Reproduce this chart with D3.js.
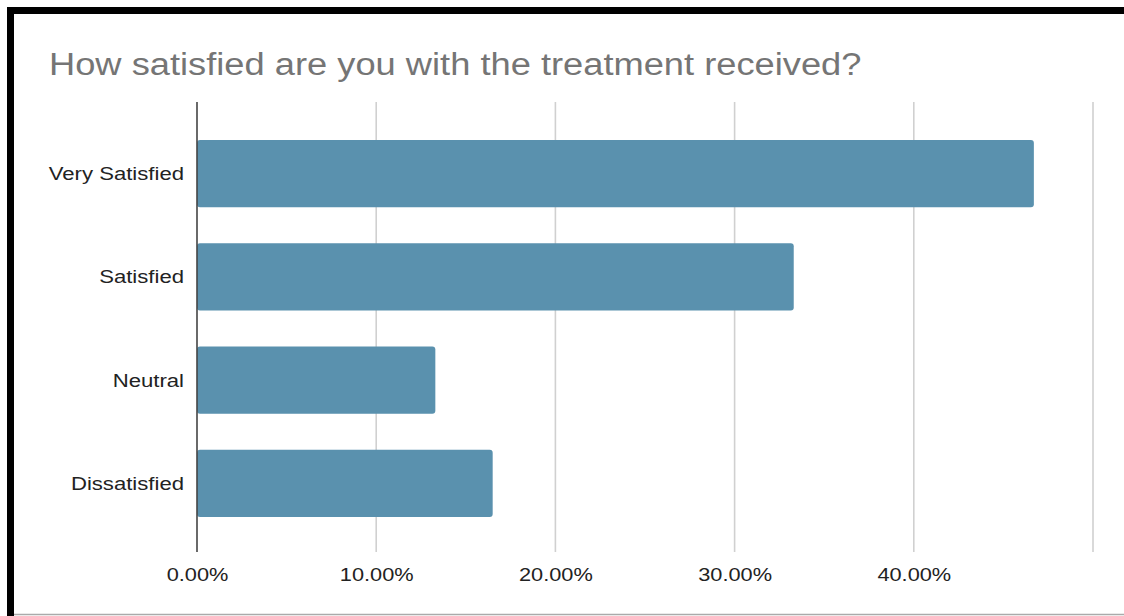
<!DOCTYPE html>
<html>
<head>
<meta charset="utf-8">
<script src="https://cdn.jsdelivr.net/npm/d3@7"></script>
<style>
  html, body { margin: 0; padding: 0; background: #fff; }
  svg { display: block; font-family: "Liberation Sans", Arial, Helvetica, sans-serif; }
</style>
</head>
<body>
<svg id="chart" width="1124" height="616"></svg>
<script>
// Survey responses: share of respondents per satisfaction level (percent)
const categories = ["Very Satisfied", "Satisfied", "Neutral", "Dissatisfied"];
const shares = [46.7, 33.3, 13.3, 16.5];
const xTicks = [0, 10, 20, 30, 40, 50];
const xTickLabels = ["0.00%", "10.00%", "20.00%", "30.00%", "40.00%", ""];
const title = "How satisfied are you with the treatment received?";

const svg = d3.select("#chart");
const W = 1124, H = 616;

// Frame: heavy black top/left edges, thin grey bottom edge
svg.append("path")
  .attr("d", `M10.5,${H} V10.5 H${W}`)
  .attr("fill", "none").attr("stroke", "#000").attr("stroke-width", 7);
svg.append("line")
  .attr("x1", 14).attr("x2", W).attr("y1", 614.5).attr("y2", 614.5)
  .attr("stroke", "#aaa").attr("stroke-width", 1.5);

const x = d3.scaleLinear().domain([0, 50]).range([197, 1093]);
const y = d3.scaleBand().domain(categories).range([140, 517])
  .paddingInner(0.35).paddingOuter(0);

const gridTop = 102, gridBottom = 552;

// Widen text horizontally by a factor, keeping it as real text
function widen(factor) {
  return sel => sel.each(function () {
    const w = this.getComputedTextLength();
    d3.select(this).attr("textLength", w * factor).attr("lengthAdjust", "spacingAndGlyphs");
  });
}

// Vertical gridlines
svg.append("g").selectAll("line")
  .data(xTicks.filter(d => d !== 0))
  .join("line")
  .attr("x1", d => x(d)).attr("x2", d => x(d))
  .attr("y1", gridTop).attr("y2", gridBottom)
  .attr("stroke", "#d0d0d0").attr("stroke-width", 1.6);

// Bars
svg.append("g").selectAll("rect")
  .data(categories)
  .join("rect")
  .attr("x", x(0))
  .attr("y", d => y(d))
  .attr("width", (d, i) => x(shares[i]) - x(0))
  .attr("height", y.bandwidth())
  .attr("rx", 3).attr("ry", 3)
  .attr("fill", "#5a91ae");

// Baseline at zero
svg.append("line")
  .attr("x1", x(0)).attr("x2", x(0))
  .attr("y1", gridTop).attr("y2", gridBottom)
  .attr("stroke", "#444").attr("stroke-width", 1.6);

// X axis tick labels
const xAxis = d3.axisBottom(x).tickValues(xTicks)
  .tickFormat((d, i) => xTickLabels[i]).tickSize(0).tickPadding(0);
const gx = svg.append("g").attr("transform", `translate(0,${gridBottom})`).call(xAxis);
gx.select(".domain").remove();
gx.selectAll("text")
  .attr("y", 29).attr("dy", 0)
  .attr("font-size", 18.3).attr("font-family", "Liberation Sans, Arial, sans-serif")
  .attr("fill", "#222")
  .call(widen(1.19));

// Category labels
const yAxis = d3.axisLeft(y).tickSize(0).tickPadding(13);
const gy = svg.append("g").attr("transform", `translate(${x(0)},0)`).call(yAxis);
gy.select(".domain").remove();
gy.selectAll("text")
  .attr("dy", "0.36em")
  .attr("font-size", 18.3).attr("font-family", "Liberation Sans, Arial, sans-serif")
  .attr("fill", "#222")
  .call(widen(1.21));

// Title
svg.append("text")
  .attr("x", 49).attr("y", 75)
  .attr("font-size", 31)
  .attr("fill", "#757575")
  .text(title)
  .call(widen(1.17));
</script>
</body>
</html>
